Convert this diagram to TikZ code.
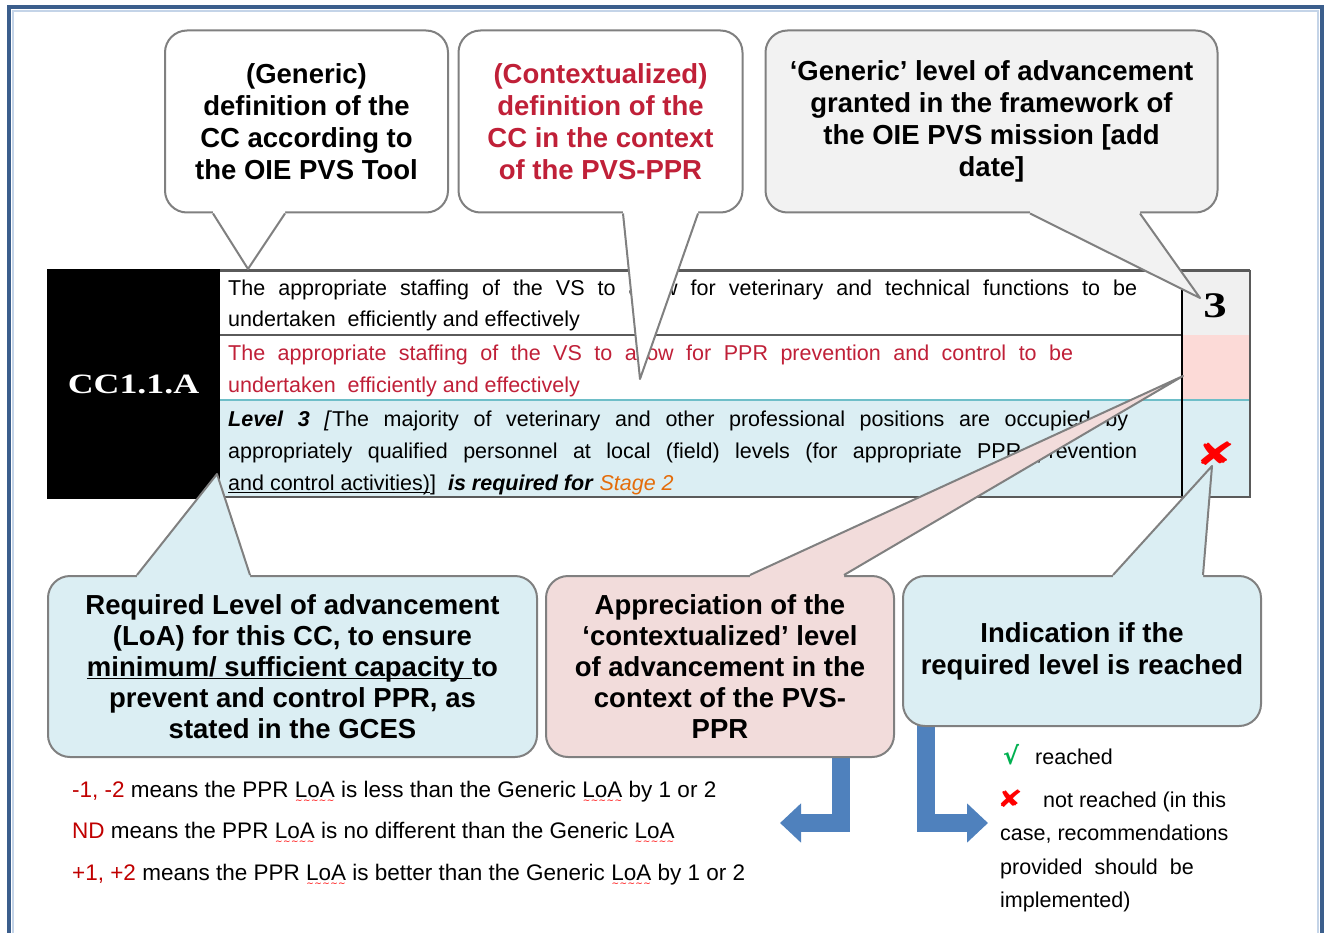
\documentclass[tikz,border=0pt]{standalone}
\usepackage{graphicx}
\usepackage{fontspec}
\setmainfont{Liberation Sans}
\newfontfamily\serifface{Liberation Serif}
\newfontfamily\dejavu{DejaVu Sans}
\usetikzlibrary{calc,arrows.meta}
\definecolor{frameblue}{RGB}{59,94,140}
\definecolor{framelight}{RGB}{196,212,232}
\definecolor{bubgray}{RGB}{128,128,128}
\definecolor{tabgray}{RGB}{90,90,90}
\definecolor{lightblue}{RGB}{219,238,243}
\definecolor{pinkfill}{RGB}{242,220,219}
\definecolor{grayfill}{RGB}{242,242,242}
\definecolor{cellpink}{RGB}{252,218,215}
\definecolor{cellgray}{RGB}{240,240,240}
\definecolor{tealline}{RGB}{110,190,200}
\definecolor{crimson}{RGB}{192,32,56}
\definecolor{orangetxt}{RGB}{228,108,10}
\definecolor{arrowblue}{RGB}{79,129,189}
\definecolor{checkgreen}{RGB}{0,176,80}
\definecolor{legendred}{RGB}{192,0,0}
\newsavebox\wavebox
\newcommand\redwave[1]{\leavevmode\sbox\wavebox{#1}\rlap{\raisebox{-6.5pt}{\color{red}\dejavu\fontsize{9}{9}\selectfont\hbox to \wd\wavebox{\xleaders\hbox{∼}\hfil}}}\usebox\wavebox}
\newcommand\myul[2]{\leavevmode\sbox\wavebox{#2}\rlap{\rule[-3pt]{\wd\wavebox}{#1}}\usebox\wavebox}
\newcommand\bubfont{\bfseries\fontsize{27.5}{32}\selectfont}
\newcommand\bubfontb{\bfseries\fontsize{27.5}{31}\selectfont}
\newcommand\tabfont{\fontsize{21.5}{32}\selectfont}
\newcommand\legfont{\fontsize{22.5}{27}\selectfont}
\newcommand\rlegfont{\fontsize{21.5}{27}\selectfont}
% #1 anchor, #2 dx1, #3 dx2, #4 tip, #5 fill, #6 inward offset
\newcommand\bubblepointer[6]{%
  \fill[#5] ($(#1)+(#2,#6)$) -- ($(#1)+(#2,0)$) -- (#4) -- ($(#1)+(#3,0)$) -- ($(#1)+(#3,#6)$) -- cycle;
  \draw[bubline] ($(#1)+(#2,0)$) -- (#4) -- ($(#1)+(#3,0)$);}
\tikzset{
  bubble/.style={draw=bubgray, line width=2pt, rounded corners=22pt, align=center, inner sep=0pt, font=\bubfont},
  bubline/.style={draw=bubgray, line width=2pt, line join=round},
  cell/.style={inner sep=0pt, outer sep=0pt, draw=none},
  tabtext/.style={anchor=base west, inner sep=0pt, font=\tabfont},
  legtext/.style={anchor=base west, inner sep=0pt, font=\legfont},
  rlegtext/.style={anchor=base west, inner sep=0pt, font=\rlegfont},
  blockarrow/.style={draw=arrowblue, line width=18pt, -{Triangle[width=38pt,length=21pt]}},
}
\begin{document}
\begin{tikzpicture}[x=1pt,y=-1pt]
\useasboundingbox (0,0) rectangle (1329,933);
% frame
\draw[framelight, line width=2pt] (13,11) rectangle (1318,980);
\draw[frameblue, line width=4pt] (9,7) rectangle (1322,980);

% table cells
\node[cell, fill=white, minimum width=962pt, minimum height=65pt] (r1) at (701,302.5) {};
\node[cell, fill=white, minimum width=962pt, minimum height=65pt] (r2) at (701,367.5) {};
\node[cell, fill=lightblue, minimum width=962pt, minimum height=97pt] (r3) at (701,448.5) {};
\node[cell, fill=cellgray, minimum width=68pt, minimum height=65pt] (c1) at (1216,302.5) {};
\node[cell, fill=cellpink, minimum width=68pt, minimum height=65pt] (c2) at (1216,367.5) {};
\node[cell, fill=lightblue, minimum width=68pt, minimum height=97pt] (c3) at (1216,448.5) {};
\node[cell, fill=black, minimum width=173pt, minimum height=230pt, text=white,
      font=\serifface\bfseries\fontsize{28}{30}\selectfont] (cc) at (133.5,384) {\scalebox{1.28}[1]{CC1.1.A}};

% table lines
\draw[tabgray, line width=2pt] (r1.south west) -- (r1.south east);
\draw[tealline, line width=2.5pt] (r3.north west) -- (c3.north east);
\draw[black, line width=1.3pt] (c1.north west) -- (c3.south west);
\draw[tabgray, line width=2pt] (r3.south west) -- (c3.south east) -- (c1.north east);
\draw[tabgray, line width=3pt] (r1.north west) -- (c1.north east);

% table texts
\node[tabtext] (t11) at (228,295) {\makebox[909pt][s]{The appropriate staffing of the VS to allow for veterinary and technical functions to be}};
\node[tabtext] (t12) at (228,326) {undertaken\ \ efficiently and\ effectively};
\node[tabtext, text=crimson] (t21) at (228,360) {\makebox[845pt][s]{The appropriate staffing of the VS to allow for PPR prevention and control to be}};
\node[tabtext, text=crimson] (t22) at (228,392) {undertaken\ \ efficiently and\ effectively};
\node[tabtext] (t31) at (228,426) {\makebox[900pt][s]{\textbf{\textit{Level 3}} \textit{[}The majority of veterinary and other professional positions are occupied by}};
\node[tabtext] (t32) at (228,458) {\makebox[909pt][s]{appropriately qualified personnel at local (field) levels (for appropriate PPR prevention}};
\node[tabtext] (t33) at (228,490) {\myul{1pt}{and control activities)}]\ \ \textbf{\textit{is required\ for}} \textcolor{orangetxt}{\textit{Stage 2}}};
\node[font=\serifface\bfseries\fontsize{36}{36}\selectfont, inner sep=0pt] (three) at (1215,306) {\scalebox{1.3}[1]{3}};
\node[font=\dejavu\bfseries\fontsize{40}{40}\selectfont, text=red, inner sep=0pt] (xmark) at (1216,454) {\scalebox{1.2}[0.8]{✘}};

% bubbles
\node[bubble, fill=white, minimum width=283pt, minimum height=182pt] (b1) at (306.5,121.5)
  {(Generic)\\definition of the\\CC according to\\the OIE PVS Tool};
\node[bubble, fill=white, text=crimson, minimum width=284pt, minimum height=182pt] (b2) at (600.5,121.5)
  {(Contextualized)\\definition of the\\CC in the context\\of the PVS-PPR};
\node[bubble, fill=grayfill, minimum width=452pt, minimum height=182pt] (b3) at (991.5,121.5)
  {‘Generic’ level of advancement\\granted in the framework of\\the OIE PVS mission [add\\date]};
\node[bubble, fill=lightblue, font=\bubfontb, minimum width=489pt, minimum height=181pt] (b4) at (292.5,666.5)
  {Required Level of advancement\\(LoA) for this CC, to ensure\\\myul{1.6pt}{minimum/ sufficient capacity\ }to\\prevent and control PPR, as\\stated in the GCES};

% blue block arrows
\coordinate (la) at (780,823);
\coordinate (ra) at (988,823);
\coordinate (sa) at (841,757);
\coordinate (sb) at (926,725);
\draw[blockarrow] (sa) |- (la);
\draw[blockarrow] (sb) |- (ra);

\node[bubble, fill=pinkfill, font=\bubfontb, minimum width=348pt, minimum height=181pt] (b5) at (720,666.5)
  {Appreciation of the\\‘contextualized’ level\\of advancement in the\\context of the PVS-\\PPR};
\node[bubble, fill=lightblue, minimum width=358pt, minimum height=150pt] (b6) at (1082,651)
  {Indication if the\\required level is reached};

% pointers
\coordinate (p1) at (248,269);
\coordinate (p2) at (640,379);
\coordinate (p3) at (1200,298);
\coordinate (p4) at (217,474);
\coordinate (p5) at (1183,376);
\coordinate (p6) at (1212,466);
\bubblepointer{b1.south}{-93.5}{-21.5}{p1}{white}{-3}
\bubblepointer{b2.south}{22.5}{97.5}{p2}{white}{-3}
\bubblepointer{b3.south}{38.5}{148.5}{p3}{grayfill}{-3}
\bubblepointer{b4.north}{-155.5}{-42.5}{p4}{lightblue}{3}
\bubblepointer{b5.north}{30}{124}{p5}{pinkfill}{3}
\bubblepointer{b6.north}{31}{121}{p6}{lightblue}{3}

% left legend
\node[legtext] (l1) at (72,797) {\textcolor{legendred}{-1, -2} means the PPR \redwave{LoA} is less than the Generic \redwave{LoA} by 1 or 2};
\node[legtext] (l2) at (72,838) {\textcolor{legendred}{ND} means the PPR \redwave{LoA} is no different than the Generic \redwave{LoA}};
\node[legtext] (l3) at (72,880) {\textcolor{legendred}{+1, +2} means the PPR \redwave{LoA} is better than the Generic \redwave{LoA} by 1 or 2};

% right legend
\node[rlegtext, text=checkgreen, font=\dejavu\bfseries\fontsize{24}{24}\selectfont] (chk) at (1003,764) {√};
\node[rlegtext] (rl1) at (1035,764) {reached};
\node[rlegtext, text=red, font=\dejavu\bfseries\fontsize{28}{28}\selectfont] (xl) at (997,807) {\scalebox{1.1}[0.85]{✘}};
\node[rlegtext] (rl2) at (1043,807) {not reached (in this};
\node[rlegtext] (rl3) at (1000,840) {case, recommendations};
\node[rlegtext] (rl4) at (1000,874) {provided\ \ should\ \ be};
\node[rlegtext] (rl5) at (1000,907) {implemented)};
\end{tikzpicture}
\end{document}
